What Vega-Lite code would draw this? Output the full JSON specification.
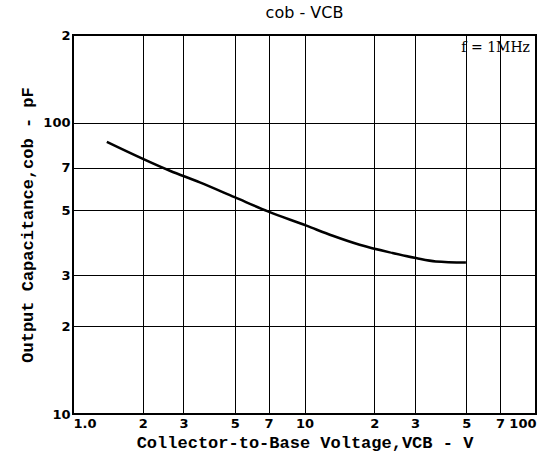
{
  "$schema": "https://vega.github.io/schema/vega-lite/v6.json",
  "autosize": "none",
  "width": 463,
  "height": 379,
  "padding": {"left": 73, "top": 35, "right": 16, "bottom": 54},
  "background": "white",
  "config": {
    "view": {"stroke": "black", "strokeWidth": 2},
    "axis": {
      "grid": true, "gridColor": "black", "gridOpacity": 1, "gridWidth": 1,
      "domain": false, "ticks": false,
      "labelFont": "DejaVu Sans", "labelFontWeight": "bold", "labelFontSize": 13, "labelColor": "black",
      "titleFont": "Liberation Mono", "titleFontWeight": "bold", "titleFontSize": 17, "titleColor": "black",
      "labelOverlap": false
    }
  },
  "title": {"text": "cob - VCB", "font": "DejaVu Sans", "fontSize": 16, "fontWeight": "normal", "color": "black", "offset": 8},
  "datasets": {
    "curve": [
      {"v": 1.40, "c": 85.9},
      {"v": 2.62, "c": 68.4},
      {"v": 3.53, "c": 62.4},
      {"v": 4.99, "c": 55.5},
      {"v": 6.95, "c": 49.6},
      {"v": 10.2, "c": 44.3},
      {"v": 13.25, "c": 40.9},
      {"v": 17.3, "c": 38.1},
      {"v": 24.0, "c": 35.7},
      {"v": 30.3, "c": 34.3},
      {"v": 36.9, "c": 33.4},
      {"v": 49.8, "c": 33.1}
    ],
    "note": [{"v": 100, "c": 200, "label": "f = 1MHz"}]
  },
  "layer": [
    {
      "data": {"name": "curve"},
      "mark": {"type": "line", "color": "black", "strokeWidth": 2.5, "interpolate": "monotone"},
      "encoding": {
        "x": {
          "field": "v", "type": "quantitative",
          "scale": {"type": "log", "domain": [1, 100], "nice": false},
          "axis": {
            "title": "Collector-to-Base Voltage,VCB - V",
            "values": [1, 2, 3, 5, 7, 10, 20, 30, 50, 70, 100],
            "labelExpr": "datum.value == 1 ? '1.0' : datum.value == 10 ? '10' : datum.value == 100 ? '100' : datum.value > 10 ? '' + (datum.value / 10) : '' + datum.value",
            "labelPadding": 3, "titlePadding": 4
          }
        },
        "y": {
          "field": "c", "type": "quantitative",
          "scale": {"type": "log", "domain": [10, 200], "nice": false},
          "axis": {
            "title": "Output Capacitance,cob - pF",
            "values": [10, 20, 30, 50, 70, 100, 200],
            "labelExpr": "datum.value == 10 ? '10' : datum.value == 100 ? '100' : datum.value > 100 ? '' + (datum.value / 100) : '' + (datum.value / 10)",
            "labelPadding": 3, "titlePadding": 6
          }
        }
      }
    },
    {
      "data": {"name": "note"},
      "mark": {"type": "text", "font": "DejaVu Serif", "fontSize": 14, "color": "black", "align": "right", "baseline": "top", "dx": -6, "dy": 6},
      "encoding": {
        "x": {"field": "v", "type": "quantitative"},
        "y": {"field": "c", "type": "quantitative"},
        "text": {"field": "label"}
      }
    }
  ]
}
